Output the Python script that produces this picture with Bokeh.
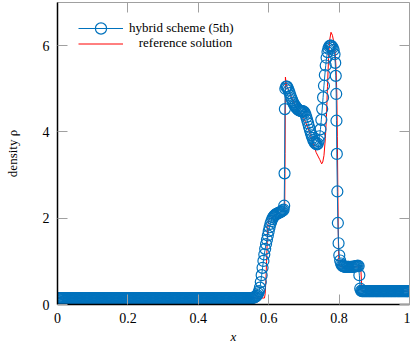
import numpy as np
from bokeh.plotting import figure
from bokeh.models import Range1d, LinearAxis, FixedTicker, Legend, LegendItem
from bokeh.embed import file_html
from bokeh.resources import INLINE

# ---------------- data ----------------
# numerical solution (hybrid scheme, 5th order): uniform grid in the constant states
grid_dx = 0.0025
rho_left_state = 0.15
rho_right_state = 0.31
x_left = np.arange(0.00125, 0.5515, grid_dx)
x_right = np.arange(0.8675, 1.0, grid_dx)

# structured part of the numerical solution
x_mid = [0.5525, 0.5550, 0.5575, 0.5600, 0.5625, 0.5650, 0.5675, 0.5700, 0.5725, 0.5750,
         0.5775, 0.5800, 0.5825, 0.5850, 0.5875, 0.5900, 0.5925, 0.5950, 0.5975, 0.6000,
         0.6025, 0.6050, 0.6075, 0.6100, 0.6125, 0.6150, 0.6175, 0.6200, 0.6225, 0.6250,
         0.6275, 0.6300, 0.6325, 0.6350, 0.6375, 0.6400,
         0.6425, 0.6440, 0.6450, 0.6460, 0.6472, 0.6495, 0.6520, 0.6545, 0.6570, 0.6595,
         0.6620, 0.6645, 0.6670, 0.6695, 0.6720, 0.6745, 0.6770, 0.6795, 0.6820, 0.6845,
         0.6870, 0.6895, 0.6920, 0.6945, 0.6970, 0.6995, 0.7020, 0.7045, 0.7070, 0.7095,
         0.7120, 0.7145, 0.7170, 0.7195, 0.7220, 0.7245, 0.7270, 0.7295, 0.7320, 0.7345,
         0.7370, 0.7395, 0.7420, 0.7445, 0.7470, 0.7495, 0.7520, 0.7545, 0.7570, 0.7595,
         0.7620, 0.7645, 0.7670, 0.7695, 0.7720, 0.7745, 0.7770, 0.7795, 0.7820, 0.7845,
         0.7870, 0.7890, 0.7905, 0.7918, 0.7925, 0.7935, 0.7950, 0.7965, 0.7985, 0.8005,
         0.8030, 0.8055, 0.8080, 0.8105, 0.8130, 0.8155, 0.8180, 0.8205, 0.8230, 0.8255,
         0.8280, 0.8305, 0.8330, 0.8355, 0.8380, 0.8405, 0.8430, 0.8455, 0.8480, 0.8505,
         0.8530, 0.8555, 0.8575, 0.8600, 0.8625, 0.8650]
rho_mid = [0.15, 0.16, 0.16, 0.17, 0.18, 0.20, 0.22, 0.26, 0.31, 0.39,
           0.52, 0.68, 0.85, 1.01, 1.16, 1.29, 1.40, 1.50, 1.60, 1.70,
           1.79, 1.87, 1.93, 1.98, 2.02, 2.05, 2.07, 2.09, 2.10, 2.11,
           2.12, 2.13, 2.14, 2.15, 2.16, 2.18,
           2.20, 2.29, 3.04, 4.53, 5.00, 5.05, 5.05, 5.01, 4.96, 4.90,
           4.84, 4.78, 4.73, 4.68, 4.64, 4.61, 4.58, 4.55, 4.53, 4.51,
           4.50, 4.49, 4.48, 4.48, 4.48, 4.47, 4.45, 4.40, 4.34, 4.27,
           4.20, 4.12, 4.05, 3.98, 3.92, 3.86, 3.81, 3.77, 3.74, 3.72,
           3.71, 3.73, 3.79, 3.90, 4.06, 4.28, 4.53, 4.80, 5.07, 5.32,
           5.54, 5.72, 5.85, 5.93, 5.98, 6.00, 6.00, 5.98, 5.95, 5.90,
           5.80, 5.60, 5.30, 4.88, 4.26, 3.49, 2.62, 1.89, 1.42, 1.14,
           1.02, 0.95, 0.91, 0.89, 0.88, 0.88, 0.87, 0.87, 0.87, 0.87,
           0.87, 0.87, 0.87, 0.87, 0.87, 0.88, 0.88, 0.88, 0.89, 0.89,
           0.90, 0.89, 0.68, 0.37, 0.32, 0.31]

# reference solution
x_ref = [0.0, 0.588, 0.590, 0.592, 0.594, 0.596, 0.598, 0.601, 0.610, 0.620,
         0.630, 0.640, 0.6455, 0.6465, 0.6475, 0.6485, 0.652, 0.657, 0.665, 0.675,
         0.685, 0.695, 0.705, 0.715, 0.725, 0.735, 0.745, 0.7505, 0.7535, 0.757,
         0.761, 0.764, 0.767, 0.770, 0.773, 0.777, 0.781, 0.785, 0.789, 0.7915,
         0.7935, 0.795, 0.7965, 0.798, 0.7995, 0.8015, 0.810, 0.830, 0.850, 0.8615,
         0.8635, 0.8655, 0.880, 1.0]
rho_ref = [0.15, 0.15, 0.25, 0.55, 1.00, 1.50, 1.85, 1.97, 2.03, 2.08,
           2.13, 2.18, 2.20, 3.50, 5.27, 5.20, 5.05, 4.95, 4.80, 4.62,
           4.50, 4.40, 4.22, 4.02, 3.75, 3.52, 3.36, 3.26, 3.30, 3.45,
           3.85, 4.35, 5.05, 5.70, 6.12, 6.31, 6.24, 6.08, 5.82, 5.45,
           4.90, 3.90, 2.60, 1.40, 0.98, 0.89, 0.87, 0.87, 0.87, 0.87,
           0.55, 0.31, 0.31, 0.31]

x_ticks = [0, 0.2, 0.4, 0.6, 0.8, 1]
x_tick_labels = ["0", "0.2", "0.4", "0.6", "0.8", "1"]
y_ticks = [0, 2, 4, 6]

x_num = np.concatenate([x_left, np.array(x_mid), x_right])
rho_num = np.concatenate([np.full(len(x_left), rho_left_state), np.array(rho_mid),
                          np.full(len(x_right), rho_right_state)])

# ---------------- figure ----------------
BLUE = "#0072BD"
GRAY = "#a0a0a0"
FONT = "Liberation Serif"
FS_TICK = "14px"
FS = "13px"

p = figure(width=410, height=347, x_range=Range1d(0, 1), y_range=Range1d(0, 7),
           output_backend="svg", toolbar_location=None,
           min_border_left=57, min_border_right=1, min_border_top=2, min_border_bottom=43)
p.outline_line_color = None
p.xgrid.visible = False
p.ygrid.visible = False

r_ref = p.line(x_ref, rho_ref, line_color="#ff0000", line_width=1)
r_num_line = p.line(x_num, rho_num, line_color=BLUE, line_width=1)
r_num_pts = p.scatter(x_num, rho_num, marker="circle", size=11, fill_color=None,
                      line_color=BLUE, line_width=1.2)

xa = p.xaxis[0]
ya = p.yaxis[0]
xa.ticker = FixedTicker(ticks=x_ticks)
xa.major_label_overrides = {t: l for t, l in zip(x_ticks, x_tick_labels)}
ya.ticker = FixedTicker(ticks=y_ticks)
for ax in (xa, ya):
    ax.axis_line_color = "black"
    ax.axis_line_width = 1.5
    ax.major_tick_in = 10
    ax.major_tick_out = 0
    ax.major_tick_line_color = GRAY
    ax.minor_tick_line_color = None
    ax.major_label_text_font = FONT
    ax.major_label_text_font_size = FS_TICK
    ax.major_label_text_color = "black"
    ax.axis_label_text_font = FONT
    ax.axis_label_text_font_size = FS
    ax.axis_label_text_color = "black"
xa.major_label_standoff = 8
ya.major_label_standoff = 8
xa.axis_label = "x"
xa.axis_label_text_font_style = "italic"
xa.axis_label_standoff = 3
ya.axis_label = "density ρ"
ya.axis_label_text_font_style = "normal"
ya.axis_label_standoff = 20

top = LinearAxis(ticker=FixedTicker(ticks=x_ticks))
right = LinearAxis(ticker=FixedTicker(ticks=y_ticks))
for ax in (top, right):
    ax.axis_line_color = GRAY
    ax.axis_line_width = 1
    ax.major_tick_in = 10
    ax.major_tick_out = 0
    ax.major_tick_line_color = GRAY
    ax.minor_tick_line_color = None
    ax.major_label_text_font_size = "1px"
    ax.major_label_text_color = None
    ax.major_label_standoff = 0
p.add_layout(top, "above")
p.add_layout(right, "right")


def make_legend(item, glyph_h, loc):
    lg = Legend(items=[item])
    lg.location = loc
    lg.padding = 0
    lg.margin = 0
    lg.spacing = 0
    lg.glyph_width = 45
    lg.glyph_height = glyph_h
    lg.label_standoff = 6
    lg.label_text_font = FONT
    lg.label_text_font_size = FS
    lg.label_text_color = "black"
    lg.border_line_alpha = 0
    lg.background_fill_alpha = 0
    return lg


leg1 = make_legend(LegendItem(label="hybrid scheme (5th)", renderers=[r_num_line, r_num_pts]),
                   28, (21, 262))
leg2 = make_legend(LegendItem(label="\u00a0\u00a0\u00a0reference solution", renderers=[r_ref]),
                   15, (21, 253))
p.add_layout(leg1, "center")
p.add_layout(leg2, "center")

open("out.html", "w").write(file_html(p, INLINE))
